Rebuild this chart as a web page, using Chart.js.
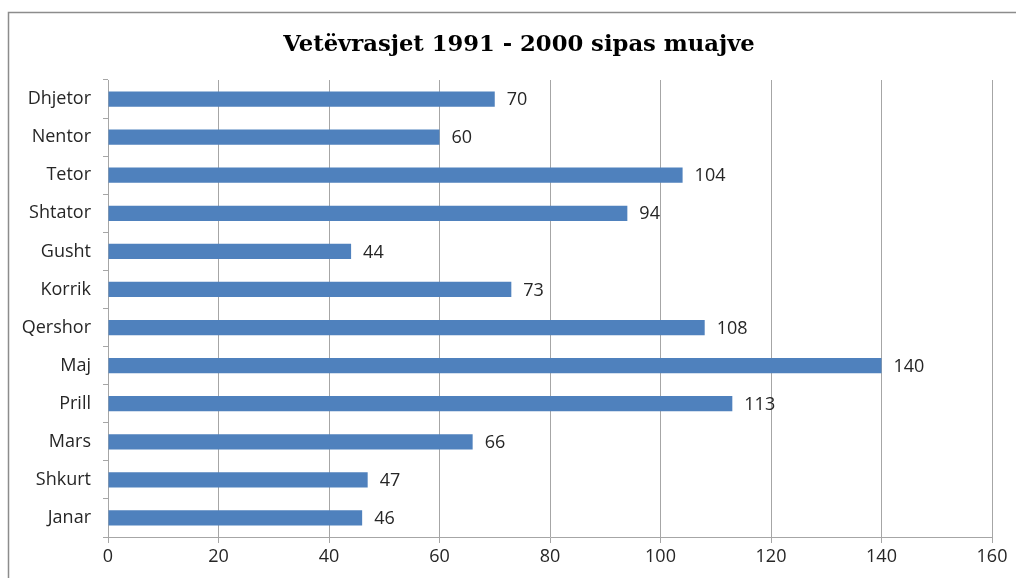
<!DOCTYPE html>
<html>
<head>
<meta charset="utf-8">
<script src="https://cdn.jsdelivr.net/npm/chart.js@4/dist/chart.umd.min.js"></script>
<style>
html,body{margin:0;padding:0;background:#fff;}
#wrap{width:1016px;height:578px;position:relative;}
</style>
</head>
<body>
<div id="wrap"><canvas id="c" width="1016" height="578"></canvas></div>
<script>
const categories = ["Janar","Shkurt","Mars","Prill","Maj","Qershor","Korrik","Gusht","Shtator","Tetor","Nentor","Dhjetor"];
const values = [46,47,66,113,140,108,73,44,94,104,60,70];
const xTicks = [0,20,40,60,80,100,120,140,160];
const titleText = "Vetëvrasjet 1991 - 2000 sipas muajve";

const labelFont = "'Open Sans', sans-serif";

const frame = {
  id: 'frame',
  beforeDraw(chart) {
    const ctx = chart.ctx;
    ctx.save();
    ctx.strokeStyle = '#8c8c8c';
    ctx.lineWidth = 1.5;
    ctx.beginPath();
    ctx.moveTo(1030, 12.5);
    ctx.lineTo(8.5, 12.5);
    ctx.lineTo(8.5, 600);
    ctx.stroke();
    ctx.fillStyle = '#000';
    ctx.font = "bold 22.7px 'DejaVu Serif', serif";
    ctx.textAlign = 'center';
    ctx.textBaseline = 'alphabetic';
    ctx.fillText(titleText, 519, 51);
    ctx.restore();
  }
};

const valueLabels = {
  id: 'valueLabels',
  afterDatasetsDraw(chart) {
    const ctx = chart.ctx;
    const meta = chart.getDatasetMeta(0);
    ctx.save();
    ctx.font = "18px " + labelFont;
    ctx.fillStyle = '#262626';
    ctx.textAlign = 'left';
    ctx.textBaseline = 'middle';
    meta.data.forEach((el, i) => {
      ctx.fillText(String(chart.data.datasets[0].data[i]), el.x + 12, el.y + 1);
    });
    ctx.restore();
  }
};

new Chart(document.getElementById('c'), {
  type: 'bar',
  data: {
    labels: categories,
    datasets: [{
      data: values,
      backgroundColor: '#4f81bd',
      borderWidth: 0,
      barPercentage: 0.8,
      categoryPercentage: 0.5
    }]
  },
  options: {
    indexAxis: 'y',
    responsive: false,
    animation: false,
    devicePixelRatio: 1,
    layout: { padding: { left: 0, right: 24, top: 80, bottom: 0 } },
    plugins: {
      legend: { display: false },
      tooltip: { enabled: false },
      title: { display: false }
    },
    scales: {
      x: {
        min: 0, max: 160,
        afterBuildTicks(scale) { scale.ticks = xTicks.map(v => ({ value: v })); },
        afterFit(scale) { scale.height = 41; },
        grid: { color: '#a6a6a6', lineWidth: 1, tickLength: 6, drawTicks: true },
        border: { color: '#a6a6a6', width: 1 },
        ticks: { color: '#262626', font: { family: labelFont, size: 18 }, padding: 3 }
      },
      y: {
        reverse: true,
        afterFit(scale) { scale.width = 108; },
        grid: { display: true, drawOnChartArea: false, drawTicks: true, tickLength: 5, color: '#a6a6a6' },
        border: { color: '#a6a6a6', width: 1 },
        ticks: { color: '#262626', font: { family: labelFont, size: 18 }, padding: 12 }
      }
    }
  },
  plugins: [frame, valueLabels]
});
</script>
</body>
</html>
